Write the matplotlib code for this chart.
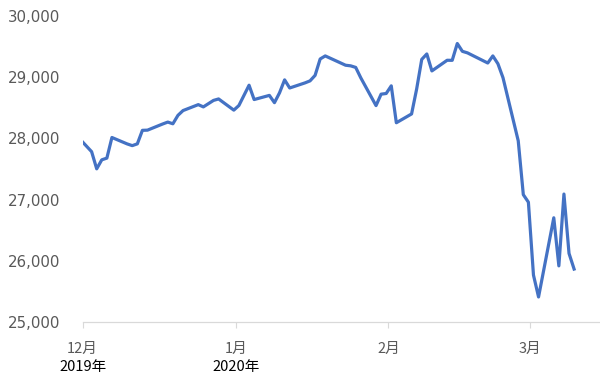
import matplotlib.pyplot as plt
import pandas as pd

# Data (DJIA closes)
dates = ["2019-11-29", "2019-12-02", "2019-12-03", "2019-12-04", "2019-12-05", "2019-12-06",
         "2019-12-09", "2019-12-10", "2019-12-11", "2019-12-12", "2019-12-13",
         "2019-12-16", "2019-12-17", "2019-12-18", "2019-12-19", "2019-12-20",
         "2019-12-23", "2019-12-24", "2019-12-26", "2019-12-27", "2019-12-30", "2019-12-31",
         "2020-01-02", "2020-01-03", "2020-01-06", "2020-01-07", "2020-01-08", "2020-01-09",
         "2020-01-10", "2020-01-13", "2020-01-14", "2020-01-15", "2020-01-16", "2020-01-17",
         "2020-01-21", "2020-01-22", "2020-01-23", "2020-01-24", "2020-01-27", "2020-01-28",
         "2020-01-29", "2020-01-30", "2020-01-31",
         "2020-02-03", "2020-02-04", "2020-02-05", "2020-02-06", "2020-02-07",
         "2020-02-10", "2020-02-11", "2020-02-12", "2020-02-13", "2020-02-14",
         "2020-02-18", "2020-02-19", "2020-02-20", "2020-02-21",
         "2020-02-24", "2020-02-25", "2020-02-26", "2020-02-27", "2020-02-28",
         "2020-03-02", "2020-03-03", "2020-03-04", "2020-03-05", "2020-03-06"]
values = [28051, 27783, 27503, 27650, 27678, 28015,
          27910, 27882, 27911, 28132, 28135,
          28236, 28267, 28239, 28377, 28455,
          28552, 28515, 28621, 28645, 28462, 28538,
          28869, 28635, 28703, 28584, 28745, 28957,
          28824, 28907, 28940, 29030, 29298, 29348,
          29196, 29186, 29160, 28990, 28536, 28723,
          28734, 28859, 28256,
          28400, 28808, 29291, 29380, 29103,
          29277, 29276, 29551, 29423, 29398,
          29232, 29348, 29220, 28992,
          27961, 27081, 26958, 25767, 25409,
          26703, 25917, 27091, 26121, 25865]

month_labels = ["12月", "1月", "2月", "3月"]
year_labels = ["2019年", "2020年", "", ""]
tick_pos = [-0.76, 29.38, 59.45, 87.36]  # days from 2019-12-01, as placed on the chart
y_ticks = [25000, 26000, 27000, 28000, 29000, 30000]

plt.rcParams['font.family'] = ['Noto Sans CJK JP', 'DejaVu Sans']

days = (pd.to_datetime(dates) - pd.Timestamp("2019-12-01")).days

fig = plt.figure(figsize=(6, 3.86), dpi=100)
ax = fig.add_axes([0.1378, 0.1658, 0.8622, 0.7927])

ax.plot(days, values, color="#4472C4", lw=2.3, solid_joinstyle="round")

ax.set_xlim(-0.76, 101.1)
ax.set_ylim(25000, 30000)

ax.set_yticks(y_ticks)
ax.set_yticklabels([f"{v:,}" for v in y_ticks], family="DejaVu Sans")
ax.tick_params(axis="y", length=0, pad=16, labelsize=10.8, labelcolor="#595959")

ax.set_xticks(tick_pos)
ax.set_xticklabels(month_labels)
ax.tick_params(axis="x", length=4, width=0.8, color="#d9d9d9", pad=10.5,
               labelsize=10.5, labelcolor="#595959")
for x, yl in zip(tick_pos, year_labels):
    if yl:
        ax.text(x, -0.147, yl, transform=ax.get_xaxis_transform(),
                ha="center", va="center", fontsize=10.5, color="black")

for s in ["top", "right", "left"]:
    ax.spines[s].set_visible(False)
ax.spines["bottom"].set_color("#d9d9d9")
ax.spines["bottom"].set_linewidth(0.9)

fig.savefig("out.png", dpi=100)
